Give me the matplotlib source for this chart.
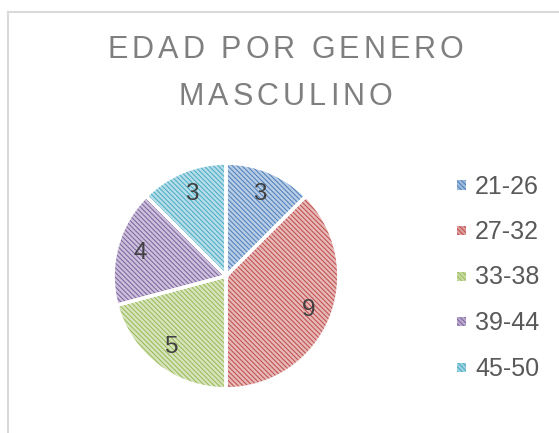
import matplotlib
matplotlib.use("Agg")
import matplotlib.pyplot as plt
from matplotlib.patches import Rectangle
from matplotlib.lines import Line2D
from matplotlib.colors import to_rgb

plt.rcParams.update({"font.family": ["Liberation Sans", "DejaVu Sans"],
                     "hatch.linewidth": 0.75})

W, H = 559, 433
labels = ["21-26", "27-32", "33-38", "39-44", "45-50"]
values = [3, 9, 5, 4, 3]
colors = ["#4F81BD", "#C0504D", "#9BBB59", "#8064A2", "#4BACC6"]
title_lines = ["EDAD POR GENERO", "MASCULINO"]
HATCH = "\\" * 7


def tint(c, f=0.5):
    r, g, b = to_rgb(c)
    return (r + (1 - r) * f, g + (1 - g) * f, b + (1 - b) * f)


fig = plt.figure(figsize=(W / 100, H / 100), dpi=100)

# pie: centre (226, 276) px, radius 114 px
cx, cy, R = 226, 276, 114
ax = fig.add_axes([(cx - R) / W, (H - cy - R) / H, 2 * R / W, 2 * R / H])
wedges, texts = ax.pie(values, colors=colors, startangle=90, counterclock=False,
                       labels=[str(v) for v in values], labeldistance=0.79,
                       textprops=dict(fontsize=17.5, color="#404040", ha="center", va="center"))
for w, c in zip(wedges, colors):
    w.set_facecolor(tint(c, 0.6))
    w.set_edgecolor(c)
    w.set_hatch(HATCH)
    w.set_linewidth(0)
# white separators on top
ax.pie(values, colors=["none"] * len(values), startangle=90, counterclock=False,
       wedgeprops=dict(edgecolor="white", linewidth=2.5))
ax.set_xlim(-1.01, 1.01)
ax.set_ylim(-1.01, 1.01)
ax.set_aspect("equal")

# title with letter spacing
fig.canvas.draw()
r = fig.canvas.get_renderer()
for line, yc in zip(title_lines, [50, 97]):
    gap = 4.0
    ws = []
    for ch in line:
        t = fig.text(0, 0, ch if ch != " " else "n", fontsize=22)
        wpx = t.get_window_extent(r).width
        t.remove()
        ws.append(wpx if ch != " " else wpx * 0.5)
    total = sum(ws) + gap * (len(line) - 1)
    x = 285.5 - total / 2
    for ch, wpx in zip(line, ws):
        if ch != " ":
            fig.text((x + wpx / 2) / W, 1 - yc / H, ch, fontsize=22, color="#7F7F7F",
                     ha="center", va="center")
        x += wpx + gap

# legend
for i, (lab, c) in enumerate(zip(labels, colors)):
    yc = 185 + i * 45.5
    fig.add_artist(Rectangle((457 / W, 1 - (yc + 4.5) / H), 9 / W, 9 / H,
                             transform=fig.transFigure, facecolor=tint(c, 0.45),
                             edgecolor=c, linewidth=0, hatch=HATCH))
    fig.text(475 / W, 1 - (yc + 1.5) / H, lab, fontsize=18, color="#595959",
             ha="left", va="center")

# chart-area border (top and left visible)
bc = "#D9D9D9"
fig.add_artist(Line2D([7.5 / W, 1], [1 - 11.5 / H] * 2, color=bc, lw=1.5,
                      transform=fig.transFigure))
fig.add_artist(Line2D([7.5 / W] * 2, [1 - 11.5 / H, 0], color=bc, lw=1.5,
                      transform=fig.transFigure))

fig.savefig("out.png", dpi=100)
